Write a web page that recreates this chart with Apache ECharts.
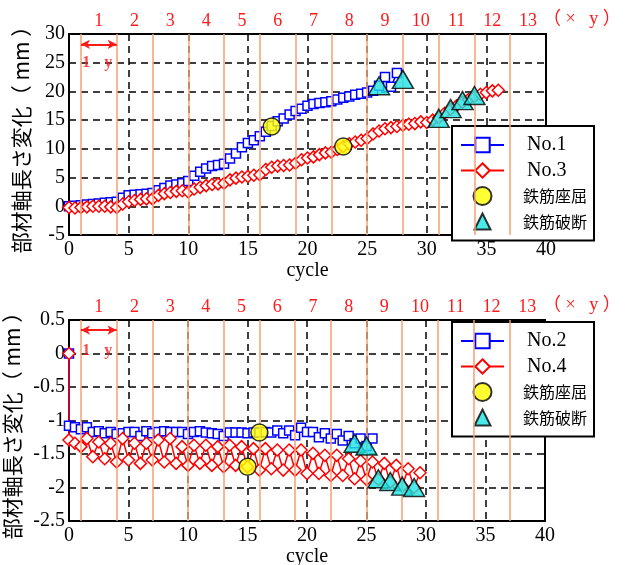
<!DOCTYPE html>
<html><head><meta charset="utf-8">
<script src="https://cdn.jsdelivr.net/npm/echarts@6/dist/echarts.min.js"></script>
<style>html,body{margin:0;padding:0;background:#fff}#c{width:627px;height:565px}</style>
</head><body><div id="c"></div>
<script>
// ---------- data ----------
const stepLabels = ['1','2','3','4','5','6','7','8','9','10','11','12','13'];
const stepLabelPos = [2.5,5.5,8.5,11.5,14.5,17.5,20.5,23.5,26.5,29.5,32.5,35.5,38.5];
const stepLines = [1,4,7,10,13,16,19,22,25,28,31,34,37];

const no1X = [0,0.5,1,1.5,2,2.5,3,3.5,4,4.5,5,5.5,6,6.5,7,7.5,8,8.5,9,9.5,10,10.5,11,11.5,12,12.5,13,13.5,14,14.5,15,15.5,16,16.5,17,17.5,18,18.5,19,19.5,20,20.5,21,21.5,22,22.5,23,23.5,24,24.5,25,25.5,26,26.5,27,27.5];
const no1Y = [0,0.1,0.2,0.3,0.4,0.5,0.6,0.7,0.8, 1.5,1.9,2.0,2.1,2.2,2.3, 2.8,3.2,3.6,3.8,4.0,4.4, 5.3,6.0,6.6,7.0,7.2,7.4, 8.3,9.2,10.3,11.0,11.5,12.2, 13.0,14.0,14.8,15.3,16.0,16.6, 17.0,17.5,17.8,18.0,18.1,18.3, 18.6,18.9,19.1,19.4,19.6,19.8, 20.1,21.0,22.5,20.8,23.2];

const no3X = [0,0.5,1,1.5,2,2.5,3,3.5,4,4.5,5,5.5,6,6.5,7,7.5,8,8.5,9,9.5,10,10.5,11,11.5,12,12.5,13,13.5,14,14.5,15,15.5,16,16.5,17,17.5,18,18.5,19,19.5,20,20.5,21,21.5,22,22.5,23,23.5,24,24.5,25,25.5,26,26.5,27,27.5,28,28.5,29,29.5,30,30.5,31,31.5,32,32.5,33,33.5,34,34.5,35,35.5,36];
const no3Y = [-0.2,-0.3,-0.2,-0.1,0,0,0,-0.1,-0.2, 0.4,0.8,1.0,1.2,1.3,1.3, 1.9,2.2,2.4,2.6,2.7,2.5, 3.0,3.3,3.6,3.8,3.9,4.0, 4.6,4.9,5.1,5.2,5.4,5.5, 6.4,6.8,7.0,7.1,7.2,7.5, 8.1,8.4,8.6,9.0,9.3,9.4, 9.9,10.4,10.9,11.2,11.5,11.8, 12.6,13.1,13.5,13.7,13.9,14.1, 14.3,14.4,14.7,14.6,15.0,15.4, 16.2,16.9,17.5,18.1,18.6,19.1, 19.5,19.8,20.1,20.2];

const buckleTop = [[17,13.9],[23,10.4]];
const ruptureTop = [[26,21.0],[28,22.1],[31,15.3],[32,17.0],[33,18.4],[34,19.3]];

const no2X = [0,0,0.5,1,1.5,2,2.5,3,3.5,4,4.5,5,5.5,6,6.5,7,7.5,8,8.5,9,9.5,10,10.5,11,11.5,12,12.5,13,13.5,14,14.5,15,15.5,16,16.5,17,17.5,18,18.5,19,19.5,20,20.5,21,21.5,22,22.5,23,23.5,24,24.5,25,25.5];
const no2Y = [0,-1.08, -1.1,-1.13,-1.1,-1.17,-1.16,-1.19,-1.17,-1.2, -1.19,-1.17,-1.17,-1.23,-1.16,-1.19, -1.17,-1.16,-1.17,-1.17,-1.17,-1.2, -1.17,-1.16,-1.18,-1.19,-1.2,-1.23, -1.18,-1.18,-1.18,-1.19,-1.18,-1.18, -1.17,-1.18,-1.15,-1.19,-1.15,-1.22, -1.11,-1.17,-1.17,-1.25,-1.19,-1.27, -1.2,-1.3,-1.23,-1.34,-1.27,-1.38, -1.27];

const no4X = [0,0,0.5,1,1.5,2,2.5,3,3.5,4,4.5,5,5.5,6,6.5,7,7.5,8,8.5,9,9.5,10,10.5,11,11.5,12,12.5,13,13.5,14,14.5,15,15.5,16,16.5,17,17.5,18,18.5,19,19.5,20,20.5,21,21.5,22,22.5,23,23.5,24,24.5,25,25.5,26,26.5,27,27.5,28,28.5,29,29.5];
const no4Y = [0,-1.29, -1.34,-1.39,-1.27,-1.54,-1.32,-1.57,-1.34,-1.62, -1.27,-1.59,-1.34,-1.64,-1.34,-1.59, -1.29,-1.62,-1.27,-1.64,-1.39,-1.67, -1.37,-1.64,-1.37,-1.67,-1.39,-1.69, -1.37,-1.67,-1.39,-1.69,-1.42,-1.74, -1.42,-1.72,-1.44,-1.74,-1.44,-1.74, -1.44,-1.79,-1.49,-1.79,-1.52,-1.82, -1.52,-1.82,-1.57,-1.87,-1.6,-1.88, -1.62,-1.88,-1.64,-1.92,-1.67,-1.98, -1.72,-2.0,-1.78];

const buckleBot = [[16,-1.18],[15,-1.69]];
const ruptureBot = [[24,-1.34],[25,-1.38],[26,-1.87],[27,-1.91],[28,-1.98],[29,-2.0]];

// annotation ("1 y" arrow) positions in data units
const arrowTop = {x0:1, x1:4, y:28.2, ty:24.9};
const arrowBot = {x0:1, x1:4, y:0.35, ty:0.04};

// ---------- helpers ----------
const zip = (xs, ys) => xs.map((x,i)=>[x, ys[i]]);
const SERIF = '"Liberation Serif", "Times New Roman", serif';
const JP = '"Noto Sans CJK JP", sans-serif';
const RED = '#ff1a1a';
const ORANGE = '#f7a172';
// legend triangle icon: invisible move points fix the 43x18 box so it is not stretched
const TRI_ICON = 'path://M0,0M43,18M13.5,17L21.5,1L29.5,17Z';

function xBottom(gi){
  return {
    type:'value', gridIndex:gi, min:0, max:40, interval:5, position:'bottom',
    axisLine:{show:false}, axisTick:{show:false},
    axisLabel:{color:'#000', fontFamily:SERIF, fontSize:20, margin:5},
    splitLine:{show:true, lineStyle:{color:'#000', type:[7,5], width:1.5}},
    name:'cycle', nameLocation:'middle', nameGap:25,
    nameTextStyle:{color:'#000', fontFamily:SERIF, fontSize:20}
  };
}
function xTop(gi){
  return {
    type:'value', gridIndex:gi, min:0, max:40, position:'top',
    axisLine:{show:false}, axisTick:{show:false}, splitLine:{show:false},
    axisLabel:{color:RED, fontFamily:SERIF, fontSize:18, margin:4,
      customValues:stepLabelPos,
      formatter:(v)=>{const i=stepLabelPos.indexOf(v); return i>=0?stepLabels[i]:'';}}
  };
}
function yLeft(gi, min, max, interval){
  return {
    type:'value', gridIndex:gi, min, max, interval,
    axisLine:{show:false}, axisTick:{show:false},
    axisLabel:{color:'#000', fontFamily:SERIF, fontSize:20, margin:4},
    splitLine:{show:true, lineStyle:{color:'#000', type:[7,5], width:1.5}},
    name:'部材軸長さ変化（ mm ）', nameLocation:'middle', nameRotate:90, nameGap:37,
    nameTextStyle:{color:'#000', fontFamily:JP, fontSize:21}
  };
}
function lineSeries(name, data, xi, yi, color, symbol, size){
  return {
    name, type:'line', xAxisIndex:xi, yAxisIndex:yi, data,
    symbol, symbolSize:size, showAllSymbol:true,
    lineStyle:{color, width:1.5}, itemStyle:{color:'#fff', borderColor:color, borderWidth:1.5},
    z:3, clip:false
  };
}
function buckle(data, xi, yi){
  return {name:'鉄筋座屈', type:'scatter', xAxisIndex:xi, yAxisIndex:yi, data,
    symbol:'circle', symbolSize:17,
    itemStyle:{color:'#ffff00', borderColor:'#000', borderWidth:1.5}, z:5};
}
function rupture(data, xi, yi){
  return {name:'鉄筋破断', type:'scatter', xAxisIndex:xi, yAxisIndex:yi, data,
    symbol:'triangle', symbolSize:[21,18],
    itemStyle:{color:'#1fe3e3', borderColor:'#000', borderWidth:1.5}, z:6};
}
function guides(xi, yi){
  const ml = stepLines.map(v=>({xAxis:v}));
  return {
    name:'guide', type:'line', xAxisIndex:xi, yAxisIndex:yi, data:[], z:1, silent:true,
    markLine:{silent:true, symbol:['none','none'], label:{show:false}, animation:false,
      lineStyle:{color:ORANGE, width:1.5, type:'solid'}, data:ml}
  };
}
function arrowSeries(xi, yi, arr){
  return {
    name:'arrow', type:'line', xAxisIndex:xi, yAxisIndex:yi, data:[], z:2, silent:true,
    markLine:{silent:true, symbol:['arrow','arrow'], symbolSize:[7,9], label:{show:false}, animation:false,
      lineStyle:{color:RED, width:2, type:'solid'},
      data:[[{coord:[arr.x0, arr.y]},{coord:[arr.x1, arr.y]}]]}
  };
}
function textSeries(xi, yi, arr){
  return {
    name:'txt', type:'scatter', xAxisIndex:xi, yAxisIndex:yi, symbol:'circle', symbolSize:0, silent:true, z:7,
    itemStyle:{color:'rgba(0,0,0,0)'},
    data:[{name:'1', value:[arr.x0+0.45, arr.ty]},{name:'y', value:[arr.x0+2.3, arr.ty]}],
    label:{show:true, position:'inside', formatter:(p)=>p.name, color:RED, fontFamily:SERIF,
      fontWeight:'bold', fontSize:16, textBorderWidth:0}
  };
}
function legend(names, top){
  return {
    data:names.map(n => n==='鉄筋破断' ? {name:n, icon:TRI_ICON} : n),
    orient:'vertical', left:452, top, selectedMode:false,
    backgroundColor:'#fff', borderColor:'#000', borderWidth:2, borderRadius:0,
    padding:[9,7,9,8], itemWidth:43, itemHeight:18, itemGap:5.5,
    formatter:(n)=> n.startsWith('No') ? '{a|'+n+'}' : '{b|'+n+'}',
    textStyle:{rich:{
      a:{fontFamily:SERIF, fontSize:20, color:'#000', padding:[0,0,0,18]},
      b:{fontFamily:JP, fontSize:16, color:'#000', padding:[0,0,0,14]}
    }}
  };
}

const chart = echarts.init(document.getElementById('c'), null, {renderer:'canvas'});
chart.setOption({
  animation:false,
  backgroundColor:'#fff',
  grid:[
    {left:69, top:34, width:477, height:201, show:true, borderColor:'#000', borderWidth:2, backgroundColor:'transparent', outerBoundsMode:'none', containLabel:false},
    {left:69, top:320, width:476, height:201, show:true, borderColor:'#000', borderWidth:2, backgroundColor:'transparent', outerBoundsMode:'none', containLabel:false}
  ],
  xAxis:[xBottom(0), xTop(0), xBottom(1), xTop(1)],
  yAxis:[yLeft(0,-5,30,5), yLeft(1,-2.5,0.5,0.5)],
  legend:[legend(['No.1','No.3','鉄筋座屈','鉄筋破断'],126), legend(['No.2','No.4','鉄筋座屈','鉄筋破断'],322)],
  graphic:[
    {type:'text', left:543, top:10, style:{text:'（ ×   y ）', fill:RED, font:'18px "Liberation Serif", "Noto Sans CJK JP"'}},
    {type:'text', left:543, top:296, style:{text:'（ ×   y ）', fill:RED, font:'18px "Liberation Serif", "Noto Sans CJK JP"'}}
  ],
  series:[
    guides(0,0), arrowSeries(0,0,arrowTop), textSeries(0,0,arrowTop),
    lineSeries('No.1', zip(no1X,no1Y), 0,0, '#0000ff','rect',9),
    lineSeries('No.3', zip(no3X,no3Y), 0,0, '#ff0000','diamond',12),
    buckle(buckleTop,0,0), rupture(ruptureTop,0,0),
    guides(2,1), arrowSeries(2,1,arrowBot), textSeries(2,1,arrowBot),
    lineSeries('No.2', zip(no2X,no2Y), 2,1, '#0000ff','rect',9),
    lineSeries('No.4', zip(no4X,no4Y), 2,1, '#ff0000','diamond',12),
    buckle(buckleBot,2,1), rupture(ruptureBot,2,1)
  ]
});
</script></body></html>
